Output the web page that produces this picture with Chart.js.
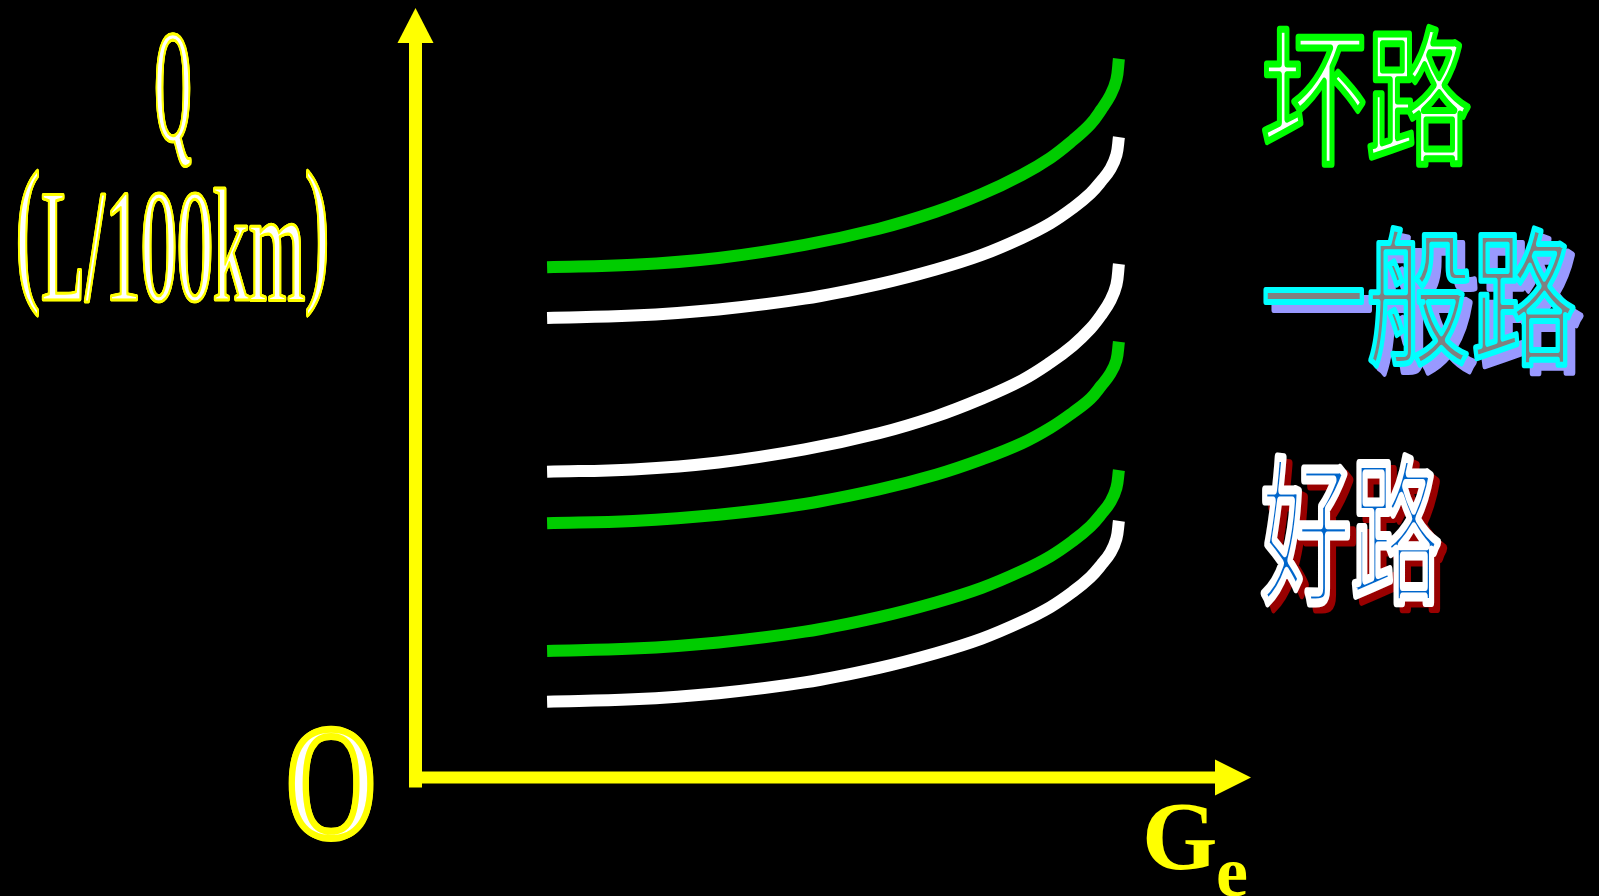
<!DOCTYPE html>
<html>
<head>
<meta charset="utf-8">
<title>Q - Ge</title>
<script src="https://cdn.jsdelivr.net/npm/chart.js@4/dist/chart.umd.min.js"></script>
<style>
    html, body { margin: 0; padding: 0; background: #000; overflow: hidden; }
    #chart { display: block; }
</style>
</head>
<body>
<canvas id="chart" width="1599" height="896"></canvas>
<script>
// Ge positions shared by all curves (axis units 0..100)
const geValues = [15.8, 26.1, 36.3, 46.6, 55.5, 62.3, 67.8, 72.6, 76.0, 78.7, 80.8, 82.1, 83.2, 83.9, 84.2];

// fuel consumption Q for each curve, top to bottom
const badRoadUpper  = [66.3, 66.6, 67.5, 69.2, 71.3, 73.5, 75.8, 78.3, 80.5, 82.8, 84.9, 86.8, 88.7, 90.7, 93.4];
const badRoadLower  = [59.7, 60.0, 60.8, 62.2, 64.1, 66.0, 67.9, 70.1, 72.0, 74.0, 75.9, 77.5, 79.1, 80.9, 83.2];
const midRoadUpper  = [39.7, 40.0, 40.9, 42.6, 44.7, 46.9, 49.2, 51.6, 53.9, 56.1, 58.3, 60.1, 62.0, 64.0, 66.7];
const midRoadLower  = [33.0, 33.3, 34.1, 35.5, 37.4, 39.3, 41.3, 43.4, 45.4, 47.4, 49.2, 50.9, 52.5, 54.2, 56.6];
const goodRoadUpper = [16.4, 16.7, 17.5, 18.9, 20.8, 22.7, 24.6, 26.8, 28.7, 30.7, 32.6, 34.2, 35.8, 37.6, 39.9];
const goodRoadLower = [9.8, 10.1, 10.9, 12.3, 14.2, 16.1, 18.0, 20.2, 22.1, 24.1, 26.0, 27.6, 29.2, 31.0, 33.3];

const roadLabels = ["坏路", "一般路", "好路"];
const axisLabels = { y: "Q", yUnit: "L/100km", origin: "O", x: "G", xSub: "e" };

const GREEN = "#00cc00";
const WHITE = "#ffffff";
const YELLOW = "#ffff00";

const seriesList = [
    { data: badRoadUpper,  color: GREEN },
    { data: badRoadLower,  color: WHITE },
    { data: midRoadUpper,  color: WHITE },
    { data: midRoadLower,  color: GREEN },
    { data: goodRoadUpper, color: GREEN },
    { data: goodRoadLower, color: WHITE }
];

// text with outline, optional grow (outline outside the glyph) and drop shadow
function outlinedText(ctx, txt, x, y, o) {
    ctx.save();
    ctx.font = o.font;
    ctx.textAlign = o.align || "left";
    ctx.textBaseline = o.baseline || "alphabetic";
    ctx.lineJoin = "round";
    var paint = function(dx, dy, fn) {
        ctx.save();
        ctx.translate(x + dx, y + dy);
        ctx.scale(o.sx, 1);
        fn();
        ctx.restore();
    };
    if (o.shadow) {
        ctx.fillStyle = o.shadow;
        ctx.strokeStyle = o.shadow;
        ctx.lineWidth = o.lw;
        paint(o.sdx, o.sdy, function() { ctx.fillText(txt, 0, 0); ctx.strokeText(txt, 0, 0); });
    }
    if (o.grow) {
        ctx.fillStyle = o.stroke;
        for (var a = 0; a < 360; a += 30) {
            var r = a * Math.PI / 180;
            paint(o.grow * Math.cos(r), o.grow * Math.sin(r), function() { ctx.fillText(txt, 0, 0); });
        }
    }
    ctx.fillStyle = o.fill;
    ctx.strokeStyle = o.stroke;
    ctx.lineWidth = o.lw;
    paint(0, 0, function() {
        ctx.fillText(txt, 0, 0);
        if (o.lw > 0) ctx.strokeText(txt, 0, 0);
    });
    ctx.restore();
}

// yellow axes with arrow heads, placed from the scales
const axesPlugin = {
    id: "arrowAxes",
    beforeDatasetsDraw(chart) {
        const ctx = chart.ctx;
        const xs = chart.scales.x, ys = chart.scales.y;
        const x0 = xs.getPixelForValue(0) + 0.5;
        const y0 = ys.getPixelForValue(0) + 0.5;
        const yTip = ys.getPixelForValue(100);
        const xTip = xs.getPixelForValue(100);
        ctx.save();
        ctx.fillStyle = YELLOW;
        // vertical axis
        ctx.fillRect(x0 - 6.5, yTip + 35, 13, y0 + 10 - (yTip + 35));
        ctx.beginPath();
        ctx.moveTo(x0, yTip);
        ctx.lineTo(x0 - 18, yTip + 35);
        ctx.lineTo(x0 + 18, yTip + 35);
        ctx.closePath();
        ctx.fill();
        // horizontal axis
        ctx.fillRect(x0 - 6.5, y0 - 6, xTip - 36 - (x0 - 6.5), 12);
        ctx.beginPath();
        ctx.moveTo(xTip, y0);
        ctx.lineTo(xTip - 36, y0 - 18);
        ctx.lineTo(xTip - 36, y0 + 18);
        ctx.closePath();
        ctx.fill();
        ctx.restore();
    },
    afterDraw(chart) {
        const ctx = chart.ctx;
        const serif = {
            font: '160px "Liberation Serif"', sx: 0.45, align: "center",
            fill: WHITE, stroke: YELLOW, lw: 3, grow: 1.2
        };
        // axis titles
        outlinedText(ctx, axisLabels.y, 173, 140, Object.assign({}, serif, { font: '162px "Liberation Serif"', sx: 0.31 }));
        outlinedText(ctx, axisLabels.yUnit, 173, 300, serif);
        outlinedText(ctx, "(", 28, 282, serif);
        outlinedText(ctx, ")", 317, 282, serif);
        outlinedText(ctx, axisLabels.origin, 331, 836, {
            font: '160px "Liberation Serif"', sx: 0.75, align: "center",
            fill: WHITE, stroke: YELLOW, lw: 6, grow: 4
        });
        outlinedText(ctx, axisLabels.x, 1142, 869, {
            font: 'bold 97px "Liberation Serif"', sx: 1, fill: YELLOW, stroke: YELLOW, lw: 0
        });
        outlinedText(ctx, axisLabels.xSub, 1216, 896, {
            font: 'bold 72px "Liberation Serif"', sx: 1, fill: YELLOW, stroke: YELLOW, lw: 0
        });
        // road condition labels
        outlinedText(ctx, roadLabels[0], 1261, 96, {
            font: '148px "Noto Sans CJK SC"', sx: 0.71, baseline: "middle",
            fill: WHITE, stroke: "#00ff00", lw: 7
        });
        outlinedText(ctx, roadLabels[1], 1261, 297, {
            font: '148px "Noto Sans CJK SC"', sx: 0.71, baseline: "middle",
            fill: "#808080", stroke: "#00ffff", lw: 6,
            shadow: "#9999ff", sdx: 8, sdy: 8
        });
        outlinedText(ctx, roadLabels[2], 1261, 530, {
            font: '158px "Noto Sans CJK SC"', sx: 0.57, baseline: "middle",
            fill: "#0066cc", stroke: WHITE, lw: 9,
            shadow: "#990000", sdx: 6, sdy: 6
        });
    }
};

new Chart("chart", {
    type: "line",
    data: {
        datasets: seriesList.map(s => ({
            data: geValues.map((g, i) => ({ x: g, y: s.data[i] })),
            borderColor: s.color,
            borderWidth: 12,
            borderCapStyle: "butt",
            borderJoinStyle: "round",
            tension: 0.4,
            pointRadius: 0,
            fill: false
        }))
    },
    options: {
        responsive: false,
        devicePixelRatio: 1,
        animation: false,
        layout: { padding: { left: 415, right: 348, top: 8, bottom: 119 } },
        scales: {
            x: { type: "linear", min: 0, max: 100, display: false },
            y: { type: "linear", min: 0, max: 100, display: false }
        },
        plugins: {
            legend: { display: false },
            tooltip: { enabled: false }
        }
    },
    plugins: [axesPlugin]
});
</script>
</body>
</html>
